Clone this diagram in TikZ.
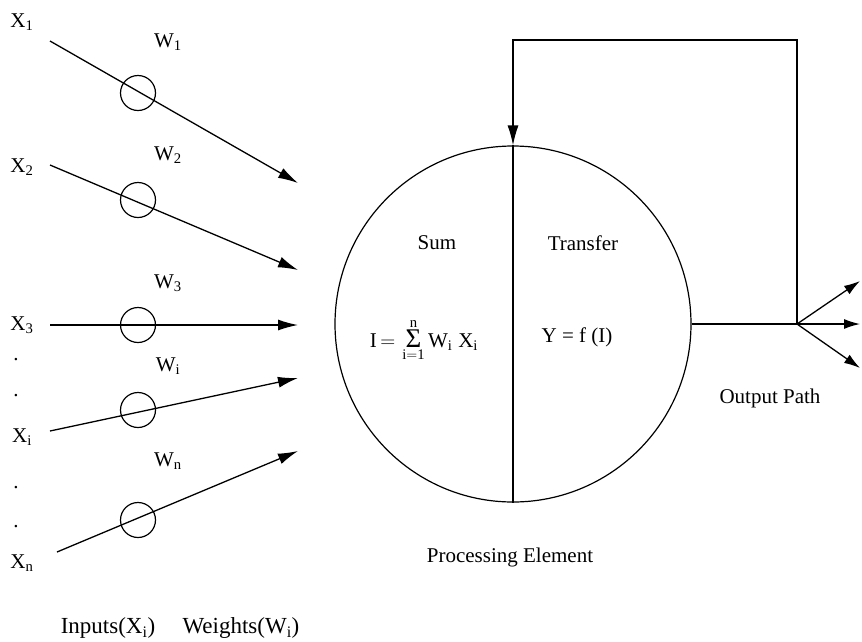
\documentclass[tikz,border=0pt]{standalone}
\usepackage{fontspec}
\setmainfont{Liberation Serif}
\usetikzlibrary{arrows.meta}
\begin{document}
\begin{tikzpicture}[x=1pt,y=-1pt,
  lbl/.style={font=\fontsize{21}{25}\selectfont, inner sep=0},
  biglbl/.style={font=\fontsize{23}{27}\selectfont, inner sep=0},
  wcirc/.style={circle, draw, line width=1.2pt, minimum size=35pt, inner sep=0},
  conn/.style={line width=1.3pt},
  arr/.style={conn, -{Latex[length=20pt,width=11pt]}},
  oarr/.style={conn, -{Latex[length=16pt,width=10pt]}},
]
\useasboundingbox (0,0) rectangle (862,641);

% processing element
\node[circle, draw, line width=1.2pt, minimum size=356pt, inner sep=0] (pe) at (513,324) {};
\draw[conn] (pe.north) -- (pe.south);

% inputs
\node[lbl] (x1) at (22,22) {X\textsubscript{1}};
\node[lbl] (x2) at (22,167) {X\textsubscript{2}};
\node[lbl] (x3) at (22,325) {X\textsubscript{3}};
\node[lbl] (xi) at (22,437) {X\textsubscript{i}};
\node[lbl] (xn) at (22,563) {X\textsubscript{n}};
\node[lbl] (d1) at (16,360) {.};
\node[lbl] (d2) at (16,396) {.};
\node[lbl] (d3) at (16,488) {.};
\node[lbl] (d4) at (16,527) {.};

\node[lbl] (lw1) at (168,42) {W\textsubscript{1}};
\node[lbl] (lw2) at (168,155) {W\textsubscript{2}};
\node[lbl] (lw3) at (168,283) {W\textsubscript{3}};
\node[lbl] (lwi) at (168,366) {W\textsubscript{i}};
\node[lbl] (lwn) at (168,461) {W\textsubscript{n}};

\coordinate (s1) at (50,41);   \coordinate (e1) at (298,183);
\coordinate (s2) at (50,165);  \coordinate (e2) at (298,270);
\coordinate (s3) at (50,325);  \coordinate (e3) at (298,325);
\coordinate (si) at (50,431);  \coordinate (ei) at (298,378);
\coordinate (sn) at (57,552);  \coordinate (en) at (298,451);

\draw[arr] (s1) -- (e1);
\draw[arr] (s2) -- (e2);
\draw[arr] (s3) -- (e3);
\draw[arr] (si) -- (ei);
\draw[arr] (sn) -- (en);

\node[wcirc] (w1) at (138,93) {};
\node[wcirc] (w2) at (138,200) {};
\node[wcirc] (w3) at (138,325) {};
\node[wcirc] (wi) at (138,410) {};
\node[wcirc] (wn) at (138,520) {};

\node[biglbl] (inp) at (108,628) {Inputs(X\textsubscript{i})};
\node[biglbl] (wts) at (241,628) {Weights(W\textsubscript{i})};

% inside texts
\node[lbl] (sum) at (437,243) {Sum};
\node[lbl] (tr) at (583,243) {Transfer};
\node[lbl] (form) at (424,340) {$\mathrm{I}\,{=}\,\mathop{\hbox{\fontsize{27}{29}\selectfont Σ}}\limits_{\mathrm{i=1}}^{\mathrm{n}}\mathrm{W}_{\mathrm{i}}\;\mathrm{X}_{\mathrm{i}}$};
\node[lbl] (yf) at (577,337) {Y = f (I)};
\node[lbl] (proc) at (510,557) {Processing Element};

% output
\coordinate (split) at (797,324);
\coordinate (fb) at (513,40);
\draw[conn] (pe.east) -- (split);
\draw[arr] (split) |- (fb) -- (pe.north);
\coordinate (o1) at (860,281);
\coordinate (o2) at (860,324);
\coordinate (o3) at (860,368);
\draw[oarr] (split) -- (o1);
\draw[oarr] (split) -- (o2);
\draw[oarr] (split) -- (o3);
\node[lbl] (out) at (770,398) {Output Path};
\end{tikzpicture}
\end{document}
